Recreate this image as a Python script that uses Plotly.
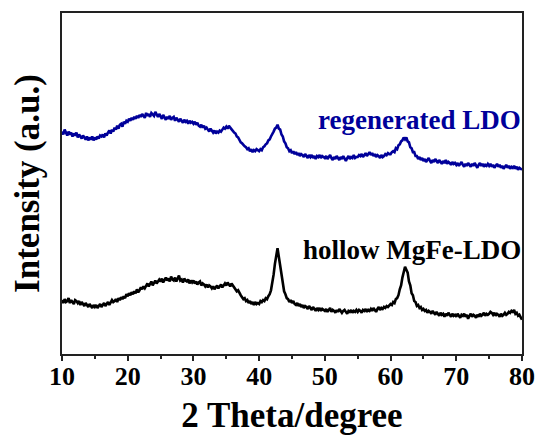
import plotly.graph_objects as go

# XRD scan grid: 2θ from 10° to 80°, step 0.2°
two_theta = [round(10 + 0.2 * i, 1) for i in range(351)]

# Intensity (a.u.) of the hollow MgFe-LDO sample, in 5° blocks
hollow_ldo = (
    [55, 52, 56, 53, 54, 57, 52, 55, 53, 51, 55, 54, 52, 54, 50, 53, 51, 49, 52, 50, 48, 51, 49, 47, 50]
    + [48, 50, 47, 49, 51, 48, 50, 52, 49, 51, 53, 50, 52, 55, 53, 54, 56, 53, 57, 55, 58, 56, 59, 57, 61]
    + [59, 62, 60, 63, 61, 64, 62, 66, 63, 65, 68, 66, 69, 67, 70, 72, 69, 71, 74, 70, 73, 75, 72, 74, 76]
    + [74, 77, 73, 76, 78, 75, 77, 74, 79, 76, 75, 78, 74, 77, 80, 75, 76, 73, 77, 75, 74, 76, 72, 75, 73]
    + [75, 72, 74, 71, 73, 74, 70, 72, 71, 69, 71, 68, 70, 69, 67, 69, 66, 68, 70, 67, 69, 71, 68, 70, 72]
    + [70, 73, 71, 69, 72, 70, 68, 67, 64, 65, 62, 60, 58, 56, 57, 54, 55, 52, 54, 51, 53, 50, 53, 51, 52]
    + [51, 54, 53, 55, 54, 57, 56, 59, 61, 65, 72, 81, 92, 103, 108, 99, 90, 78, 72, 64, 61, 57, 56, 53, 55]
    + [52, 54, 51, 50, 52, 49, 51, 48, 50, 47, 49, 48, 46, 49, 47, 45, 48, 46, 44, 47, 45, 47, 44, 46, 45]
    + [44, 46, 43, 45, 47, 43, 45, 44, 42, 45, 43, 46, 44, 42, 44, 45, 43, 41, 44, 43, 45, 42, 44, 43, 45]
    + [43, 45, 44, 42, 45, 44, 46, 43, 45, 44, 46, 44, 47, 45, 43, 46, 48, 45, 47, 46, 48, 47, 49, 48, 50]
    + [51, 50, 53, 52, 56, 57, 60, 66, 70, 78, 84, 89, 86, 83, 74, 70, 62, 60, 54, 53, 49, 50, 47, 48, 45]
    + [46, 44, 45, 42, 44, 43, 41, 44, 42, 40, 43, 41, 39, 42, 40, 41, 38, 41, 39, 42, 40, 38, 41, 39, 40]
    + [38, 41, 39, 37, 40, 39, 41, 38, 40, 36, 39, 41, 38, 40, 39, 37, 40, 38, 41, 39, 40, 42, 39, 41, 40]
    + [41, 43, 42, 40, 42, 39, 41, 40, 38, 41, 39, 40, 42, 40, 41, 43, 42, 44, 43, 45, 41, 42, 39, 40, 37, 35]
)

# Intensity (a.u.) of the regenerated LDO sample, in 5° blocks
regenerated_ldo = (
    [227, 224, 229, 225, 223, 227, 224, 226, 222, 225, 223, 226, 221, 224, 222, 220, 223, 221, 219, 222, 218, 221, 219, 222, 218]
    + [221, 219, 222, 220, 223, 222, 224, 221, 225, 223, 226, 228, 225, 229, 227, 231, 229, 233, 230, 234, 235, 232, 237, 235, 238]
    + [237, 240, 238, 241, 239, 242, 240, 243, 241, 244, 242, 245, 243, 241, 246, 243, 245, 242, 246, 244, 243, 247, 244, 242, 245]
    + [243, 240, 244, 241, 239, 242, 240, 243, 239, 241, 242, 238, 241, 239, 237, 240, 238, 236, 239, 237, 238, 235, 238, 236, 237]
    + [235, 237, 234, 236, 233, 232, 234, 231, 233, 230, 231, 229, 227, 230, 228, 226, 228, 225, 227, 226, 228, 227, 229, 231, 230]
    + [232, 230, 233, 231, 229, 228, 226, 225, 222, 221, 218, 216, 215, 213, 212, 211, 209, 210, 207, 209, 206, 208, 207, 209, 208]
    + [207, 209, 208, 211, 212, 214, 215, 218, 219, 222, 224, 227, 230, 231, 234, 230, 229, 224, 222, 217, 215, 211, 210, 207, 208]
    + [205, 207, 204, 206, 203, 205, 202, 204, 203, 201, 204, 202, 200, 203, 201, 203, 200, 202, 199, 202, 201, 203, 200, 202, 201]
    + [200, 202, 199, 201, 203, 200, 198, 201, 199, 202, 200, 198, 201, 199, 202, 200, 197, 200, 202, 199, 201, 200, 203, 200, 201]
    + [201, 203, 202, 204, 201, 203, 205, 202, 204, 206, 203, 205, 202, 204, 201, 203, 202, 200, 203, 201, 202, 204, 203, 205, 204]
    + [204, 206, 207, 206, 210, 209, 213, 214, 217, 218, 221, 219, 221, 217, 216, 211, 210, 206, 206, 202, 202, 199, 201, 198, 200]
    + [197, 199, 196, 198, 200, 197, 195, 198, 196, 199, 197, 195, 198, 196, 194, 197, 195, 198, 194, 196, 195, 193, 196, 194, 195]
    + [193, 195, 192, 194, 196, 193, 191, 194, 192, 195, 193, 191, 194, 192, 195, 193, 190, 193, 195, 192, 194, 191, 193, 192, 194]
    + [192, 194, 191, 193, 190, 192, 194, 191, 193, 190, 192, 189, 191, 193, 190, 192, 189, 191, 190, 192, 189, 191, 188, 190, 189, 188]
)

x_ticks = [10, 20, 30, 40, 50, 60, 70, 80]
sample_labels = ["hollow MgFe-LDO", "regenerated LDO"]

BLUE = "#00009a"
SERIF = "Liberation Serif"

fig = go.Figure()
fig.add_trace(go.Scatter(x=two_theta, y=hollow_ldo, mode="lines",
                         line=dict(color="black", width=2.6), name=sample_labels[0]))
fig.add_trace(go.Scatter(x=two_theta, y=regenerated_ldo, mode="lines",
                         line=dict(color=BLUE, width=2.6), name=sample_labels[1]))

# sample names, right-aligned near the end of each pattern
fig.add_annotation(x=79.1, y=106, xshift=7, text=sample_labels[0], showarrow=False,
                   xanchor="right", yanchor="middle",
                   font=dict(family=SERIF, size=27, color="black", weight="bold"))
fig.add_annotation(x=79.1, y=239, xshift=7, text=sample_labels[1], showarrow=False,
                   xanchor="right", yanchor="middle",
                   font=dict(family=SERIF, size=27, color=BLUE, weight="bold"))

fig.update_layout(
    width=546, height=439,
    margin=dict(l=62, r=18, t=11, b=80),
    paper_bgcolor="white", plot_bgcolor="white",
    showlegend=False,
    font=dict(family=SERIF, color="black"),
)
fig.update_xaxes(
    range=[10, 80], tickvals=x_ticks, ticks="outside", ticklen=5, tickwidth=2,
    tickcolor="#222", minor=dict(dtick=5, ticks="outside", ticklen=3, tickwidth=2, tickcolor="#222"),
    showline=True, linecolor="#222", linewidth=2, mirror=True, showgrid=False, zeroline=False,
    ticklabelstandoff=-7,
    tickfont=dict(family=SERIF, size=26, color="black", weight="bold"),
    title=dict(text="2 Theta/degree", standoff=12,
               font=dict(family=SERIF, size=35, color="black", weight="bold")),
)
fig.update_yaxes(
    range=[0, 348], showticklabels=False, ticks="",
    showline=True, linecolor="#222", linewidth=2, mirror=True, showgrid=False, zeroline=False,
    title=dict(text="Intensity (a.u.)", standoff=10,
               font=dict(family=SERIF, size=35, color="black", weight="bold")),
)

fig.write_html("out.html")
